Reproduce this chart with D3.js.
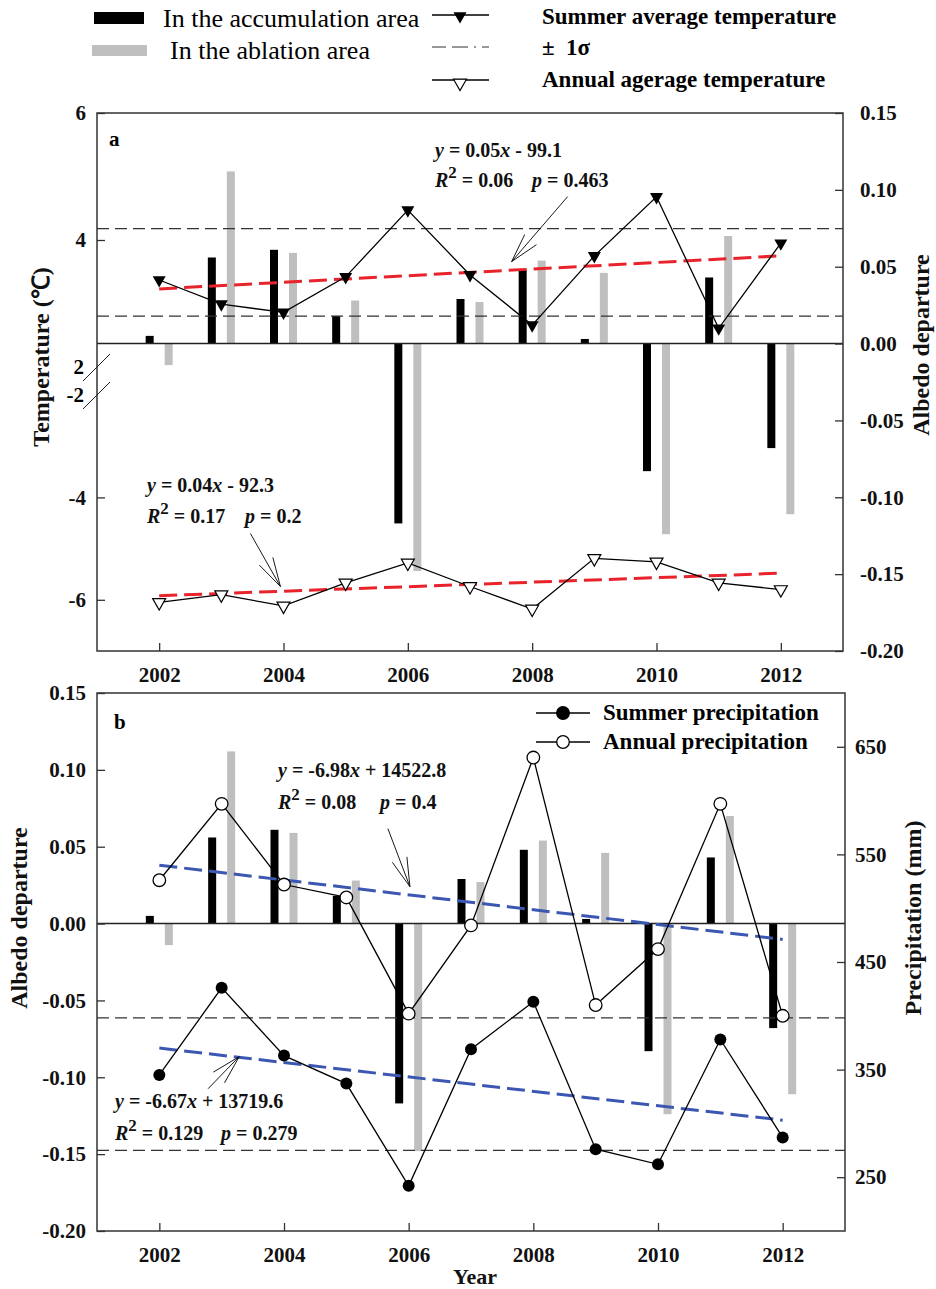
<!DOCTYPE html>
<html>
<head>
<meta charset="utf-8">
<script src="https://cdn.jsdelivr.net/npm/d3@7"></script>
<style>
  body { margin: 0; background: #fff; }
  svg { display: block; font-family: "Liberation Serif", "Times New Roman", serif; }
  .tick text { font-family: "Liberation Serif", "Times New Roman", serif; font-size: 21px; font-weight: bold; fill: #111; }
  .tick line { stroke: #333; stroke-width: 1.3; }
  .eq { font-size: 20px; font-weight: bold; fill: #111; }
  .title { font-size: 24px; font-weight: bold; fill: #111; }
</style>
</head>
<body>
<div id="container"></div>
<script>
/* CONSTANTS AND GLOBALS */
const width = 936, height = 1289;

// plot boxes of the two panels
const boxA = {left: 97, right: 843, top: 113, bottom: 651};
const boxB = {left: 97, right: 845, top: 693, bottom: 1231};

const barW = 8, barOffset = 9.5;
const grey = "#bfbfbf", red = "#e8232b", blue = "#3b57b2";

/* DATA */
const years = [2002, 2003, 2004, 2005, 2006, 2007, 2008, 2009, 2010, 2011, 2012];
const xTicks = [2002, 2004, 2006, 2008, 2010, 2012];
const trendYears = [2002, 2012];

// albedo departure, same bars in both panels
const accumArea    = [0.005, 0.056, 0.061, 0.018, -0.117, 0.029, 0.048, 0.003, -0.083, 0.043, -0.068];
const ablationArea = [-0.014, 0.112, 0.059, 0.028, -0.148, 0.027, 0.054, 0.046, -0.124, 0.070, -0.111];

// panel a - temperature (C)
const summerTemp = [3.37, 2.99, 2.86, 3.42, 4.47, 3.45, 2.66, 3.75, 4.68, 2.61, 3.95];
const annualTemp = [-6.05, -5.90, -6.12, -5.67, -5.28, -5.74, -6.18, -5.19, -5.26, -5.67, -5.80];
const summerTempSigma = [2.80, 4.18];
const summerTempTrend = [3.23, 3.75];
const annualTempTrend = [-5.92, -5.48];

// panel b - precipitation (mm)
const summerPrecip = [345, 426, 363, 337, 242, 369, 413, 276, 262, 378, 287];
const annualPrecip = [526, 597, 522, 510, 402, 484, 640, 410, 462, 597, 400];
const summerPrecipSigma = [275, 398];
const summerPrecipTrend = [370, 303];
const annualPrecipTrend = [540, 471];

const albedoTicks = [-0.2, -0.15, -0.1, -0.05, 0, 0.05, 0.1, 0.15];
const precipTicks = [250, 350, 450, 550, 650];

const svg = d3.select("#container").append("svg")
  .attr("width", width)
  .attr("height", height);

/* HELPERS */
const fmt2 = d => d.toFixed(2);
const triDown = "M-6.5,-3.8L6.5,-3.8L0,7.6Z";

function styleAxis(g) {
  g.select(".domain").remove();
}

function drawBars(g, x, y) {
  const rows = years.map((yr, i) => ({yr, acc: accumArea[i], abl: ablationArea[i]}));
  g.selectAll("rect.acc").data(rows).join("rect")
    .attr("class", "acc")
    .attr("x", d => x(d.yr) - barOffset - barW / 2)
    .attr("width", barW)
    .attr("y", d => y(Math.max(0, d.acc)))
    .attr("height", d => Math.abs(y(d.acc) - y(0)))
    .attr("fill", "#000");
  g.selectAll("rect.abl").data(rows).join("rect")
    .attr("class", "abl")
    .attr("x", d => x(d.yr) + barOffset - barW / 2)
    .attr("width", barW)
    .attr("y", d => y(Math.max(0, d.abl)))
    .attr("height", d => Math.abs(y(d.abl) - y(0)))
    .attr("fill", grey);
}

function hLine(g, box, yv, dash, w, col) {
  g.append("line")
    .attr("x1", box.left).attr("x2", box.right)
    .attr("y1", yv).attr("y2", yv)
    .attr("stroke", col).attr("stroke-width", w)
    .attr("stroke-dasharray", dash);
}

function trend(g, x, y, vals, col) {
  g.append("path")
    .datum(trendYears.map((yr, i) => [yr, vals[i]]))
    .attr("d", d3.line().x(d => x(d[0])).y(d => y(d[1])))
    .attr("fill", "none")
    .attr("stroke", col)
    .attr("stroke-width", 3)
    .attr("stroke-dasharray", "18,7");
}

function series(g, x, y, vals) {
  g.append("path")
    .datum(years.map((yr, i) => [yr, vals[i]]))
    .attr("d", d3.line().x(d => x(d[0])).y(d => y(d[1])))
    .attr("fill", "none")
    .attr("stroke", "#000")
    .attr("stroke-width", 1.3);
}

// arrow: tip in pixels, tail offset, two open barbs
function arrow(g, tx, ty, dx, dy) {
  const a = Math.atan2(dy, dx), len = 30, spread = 15 * Math.PI / 180;
  const p = d3.path();
  p.moveTo(tx + dx, ty + dy); p.lineTo(tx, ty);
  [a - spread, a + spread].forEach(b => {
    p.moveTo(tx, ty); p.lineTo(tx + len * Math.cos(b), ty + len * Math.sin(b));
  });
  g.append("path").attr("d", p.toString())
    .attr("fill", "none").attr("stroke", "#000").attr("stroke-width", 0.9);
}

// two line equation block
function equation(g, x, y1, y2, pX, slope, r2, pval) {
  const t1 = g.append("text").attr("class", "eq").attr("x", x).attr("y", y1);
  t1.append("tspan").attr("font-style", "italic").text("y");
  t1.append("tspan").text(" = " + slope);
  t1.append("tspan").attr("font-style", "italic").text("x");
  t1.append("tspan").text(" " + r2.tail);
  const t2 = g.append("text").attr("class", "eq").attr("x", x).attr("y", y2);
  t2.append("tspan").attr("font-style", "italic").text("R");
  t2.append("tspan").attr("font-size", "17px").attr("dy", -9).text("2");
  t2.append("tspan").attr("dy", 9).text(" = " + r2.val);
  const t3 = g.append("text").attr("class", "eq").attr("x", pX).attr("y", y2);
  t3.append("tspan").attr("font-style", "italic").text("p");
  t3.append("tspan").text(" = " + pval);
}

/* PANEL A */
function drawPanelA() {
  const g = svg.append("g");
  const x = d3.scaleLinear().domain([2001, 2013]).range([boxA.left, boxA.right]);
  const alb = d3.scaleLinear().domain([-0.2, 0.15]).range([boxA.bottom, boxA.top]);
  // broken temperature axis: upper and lower pieces
  const tTop = d3.scaleLinear().domain([2, 6]).range([367, boxA.top]);
  const tBot = d3.scaleLinear().domain([-7, -2]).range([boxA.bottom, 395]);

  drawBars(g, x, alb);
  hLine(g, boxA, tTop(summerTempSigma[0]), "12,6", 1.2, "#333");
  hLine(g, boxA, tTop(summerTempSigma[1]), "12,6", 1.2, "#333");
  hLine(g, boxA, alb(0), null, 1.5, "#222");

  trend(g, x, tTop, summerTempTrend, red);
  trend(g, x, tBot, annualTempTrend, red);

  series(g, x, tTop, summerTemp);
  series(g, x, tBot, annualTemp);

  g.selectAll("path.sum").data(years).join("path")
    .attr("class", "sum")
    .attr("d", triDown)
    .attr("transform", (d, i) => `translate(${x(d)},${tTop(summerTemp[i])})`)
    .attr("fill", "#000");
  g.selectAll("path.ann").data(years).join("path")
    .attr("class", "ann")
    .attr("d", triDown)
    .attr("transform", (d, i) => `translate(${x(d)},${tBot(annualTemp[i])})`)
    .attr("fill", "#fff").attr("stroke", "#000").attr("stroke-width", 1.2);

  g.append("rect")
    .attr("x", boxA.left).attr("y", boxA.top)
    .attr("width", boxA.right - boxA.left).attr("height", boxA.bottom - boxA.top)
    .attr("fill", "none").attr("stroke", "#333").attr("stroke-width", 1.5);

  // axes
  g.append("g").attr("transform", `translate(0,${boxA.bottom})`)
    .call(d3.axisBottom(x).tickValues(xTicks).tickSize(-8).tickPadding(16).tickFormat(d3.format("d")))
    .call(styleAxis);
  g.append("g").attr("transform", `translate(${boxA.right},0)`)
    .call(d3.axisRight(alb).tickValues(albedoTicks).tickSize(-8).tickPadding(17).tickFormat(fmt2))
    .call(styleAxis);
  g.append("g").attr("transform", `translate(${boxA.left},0)`)
    .call(d3.axisLeft(tTop).tickValues([4, 6]).tickSize(-8).tickPadding(11).tickFormat(d => String(d)))
    .call(styleAxis);
  g.append("g").attr("transform", `translate(${boxA.left},0)`)
    .call(d3.axisLeft(tBot).tickValues([-6, -4]).tickSize(-8).tickPadding(11).tickFormat(d => String(d)))
    .call(styleAxis);

  // break labels and slashes
  [[tTop(2), "2"], [tBot(-2), "-2"]].forEach(([yv, lab]) => {
    g.append("text").attr("x", 84).attr("y", yv).attr("dy", "0.32em")
      .attr("text-anchor", "end")
      .style("font-size", "21px").style("font-weight", "bold").text(lab);
    g.append("line")
      .attr("x1", boxA.left - 14).attr("y1", yv + 14)
      .attr("x2", boxA.left + 13).attr("y2", yv - 13)
      .attr("stroke", "#222").attr("stroke-width", 1);
  });

  g.append("text").attr("x", 109).attr("y", 146)
    .style("font-size", "21px").style("font-weight", "bold").text("a");

  equation(g, 435, 157, 187, 532, "0.05", {tail: "- 99.1", val: "0.06"}, "0.463");
  arrow(g, x(2007.67), tTop(3.66), 56, -65);
  equation(g, 147, 492, 523, 245, "0.04", {tail: "- 92.3", val: "0.17"}, "0.2");
  arrow(g, x(2003.95), tBot(-5.74), -30, -53);

  g.append("text").attr("class", "title")
    .attr("transform", "translate(49,357) rotate(-90)")
    .attr("text-anchor", "middle").text("Temperature (\u2103)");
  g.append("text").attr("class", "title")
    .attr("transform", "translate(929,345) rotate(-90)")
    .attr("text-anchor", "middle").text("Albedo departure");
}

/* PANEL B */
function drawPanelB() {
  const g = svg.append("g");
  const x = d3.scaleLinear().domain([2001, 2013]).range([boxB.left, boxB.right]);
  const alb = d3.scaleLinear().domain([-0.2, 0.15]).range([boxB.bottom, boxB.top]);
  const pr = d3.scaleLinear().domain([200, 700]).range([boxB.bottom, boxB.top]);

  drawBars(g, x, alb);
  hLine(g, boxB, pr(summerPrecipSigma[0]), "12,6", 1.2, "#333");
  hLine(g, boxB, pr(summerPrecipSigma[1]), "12,6", 1.2, "#333");
  hLine(g, boxB, alb(0), null, 1.5, "#222");

  trend(g, x, pr, annualPrecipTrend, blue);
  trend(g, x, pr, summerPrecipTrend, blue);

  series(g, x, pr, annualPrecip);
  series(g, x, pr, summerPrecip);

  g.selectAll("circle.sum").data(years).join("circle")
    .attr("class", "sum")
    .attr("cx", d => x(d)).attr("cy", (d, i) => pr(summerPrecip[i]))
    .attr("r", 6).attr("fill", "#000");
  g.selectAll("circle.ann").data(years).join("circle")
    .attr("class", "ann")
    .attr("cx", d => x(d)).attr("cy", (d, i) => pr(annualPrecip[i]))
    .attr("r", 6.3).attr("fill", "#fff").attr("stroke", "#000").attr("stroke-width", 1.3);

  g.append("rect")
    .attr("x", boxB.left).attr("y", boxB.top)
    .attr("width", boxB.right - boxB.left).attr("height", boxB.bottom - boxB.top)
    .attr("fill", "none").attr("stroke", "#333").attr("stroke-width", 1.5);

  g.append("g").attr("transform", `translate(0,${boxB.bottom})`)
    .call(d3.axisBottom(x).tickValues(xTicks).tickSize(-8).tickPadding(16).tickFormat(d3.format("d")))
    .call(styleAxis);
  g.append("g").attr("transform", `translate(${boxB.left},0)`)
    .call(d3.axisLeft(alb).tickValues(albedoTicks).tickSize(-8).tickPadding(11).tickFormat(fmt2))
    .call(styleAxis);
  g.append("g").attr("transform", `translate(${boxB.right},0)`)
    .call(d3.axisRight(pr).tickValues(precipTicks).tickSize(-8).tickPadding(10).tickFormat(d3.format("d")))
    .call(styleAxis);

  g.append("text").attr("x", 114).attr("y", 729)
    .style("font-size", "21px").style("font-weight", "bold").text("b");

  // legend inside panel b
  const leg = [["Summer precipitation", "#000", 713], ["Annual precipitation", "#fff", 742]];
  leg.forEach(([lab, fill, yv]) => {
    g.append("line").attr("x1", 536).attr("x2", 590).attr("y1", yv).attr("y2", yv)
      .attr("stroke", "#000").attr("stroke-width", 1.3);
    g.append("circle").attr("cx", 563).attr("cy", yv).attr("r", 6.3)
      .attr("fill", fill).attr("stroke", "#000").attr("stroke-width", 1.3);
    g.append("text").attr("x", 603).attr("y", yv + 7)
      .style("font-size", "23px").style("font-weight", "bold").text(lab);
  });

  equation(g, 278, 777, 809, 380, "-6.98", {tail: "+ 14522.8", val: "0.08"}, "0.4");
  arrow(g, x(2006.02), pr(520), -22, -58);
  equation(g, 115, 1108, 1140, 221, "-6.67", {tail: "+ 13719.6", val: "0.129"}, "0.279");
  arrow(g, x(2003.28), pr(362), -31, 32);

  g.append("text").attr("class", "title")
    .attr("transform", "translate(27,918) rotate(-90)")
    .attr("text-anchor", "middle").text("Albedo departure");
  g.append("text").attr("class", "title")
    .attr("transform", "translate(921,918) rotate(-90)")
    .attr("text-anchor", "middle").text("Precipitation (mm)");
  g.append("text").attr("class", "title")
    .attr("x", 475).attr("y", 1284).attr("text-anchor", "middle")
    .style("font-size", "22px").text("Year");
}

/* TOP LEGEND */
function drawLegend() {
  const g = svg.append("g");
  g.append("rect").attr("x", 94).attr("y", 12).attr("width", 50).attr("height", 12).attr("fill", "#000");
  g.append("rect").attr("x", 92).attr("y", 45).attr("width", 55).attr("height", 11).attr("fill", grey);
  g.append("text").attr("x", 163).attr("y", 27).style("font-size", "26px").text("In the accumulation area");
  g.append("text").attr("x", 170).attr("y", 59).style("font-size", "26px").text("In the ablation area");

  g.append("line").attr("x1", 432).attr("x2", 489).attr("y1", 15).attr("y2", 15)
    .attr("stroke", "#000").attr("stroke-width", 1.3);
  g.append("path").attr("d", triDown).attr("transform", "translate(460,16)").attr("fill", "#000");

  g.append("line").attr("x1", 432).attr("x2", 489).attr("y1", 47).attr("y2", 47)
    .attr("stroke", "#333").attr("stroke-width", 1.2).attr("stroke-dasharray", "14,6,16,6,2,6");

  g.append("line").attr("x1", 432).attr("x2", 489).attr("y1", 80).attr("y2", 80)
    .attr("stroke", "#000").attr("stroke-width", 1.3);
  g.append("path").attr("d", triDown).attr("transform", "translate(460,83)")
    .attr("fill", "#fff").attr("stroke", "#000").attr("stroke-width", 1.2);

  const labs = [["Summer average temperature", 24], ["\u00b1  1\u03c3", 55], ["Annual agerage temperature", 87]];
  labs.forEach(([t, yv]) => {
    g.append("text").attr("x", 542).attr("y", yv)
      .style("font-size", "23px").style("font-weight", "bold")
      .style("white-space", "pre").text(t);
  });
}

drawLegend();
drawPanelA();
drawPanelB();
</script>
</body>
</html>
